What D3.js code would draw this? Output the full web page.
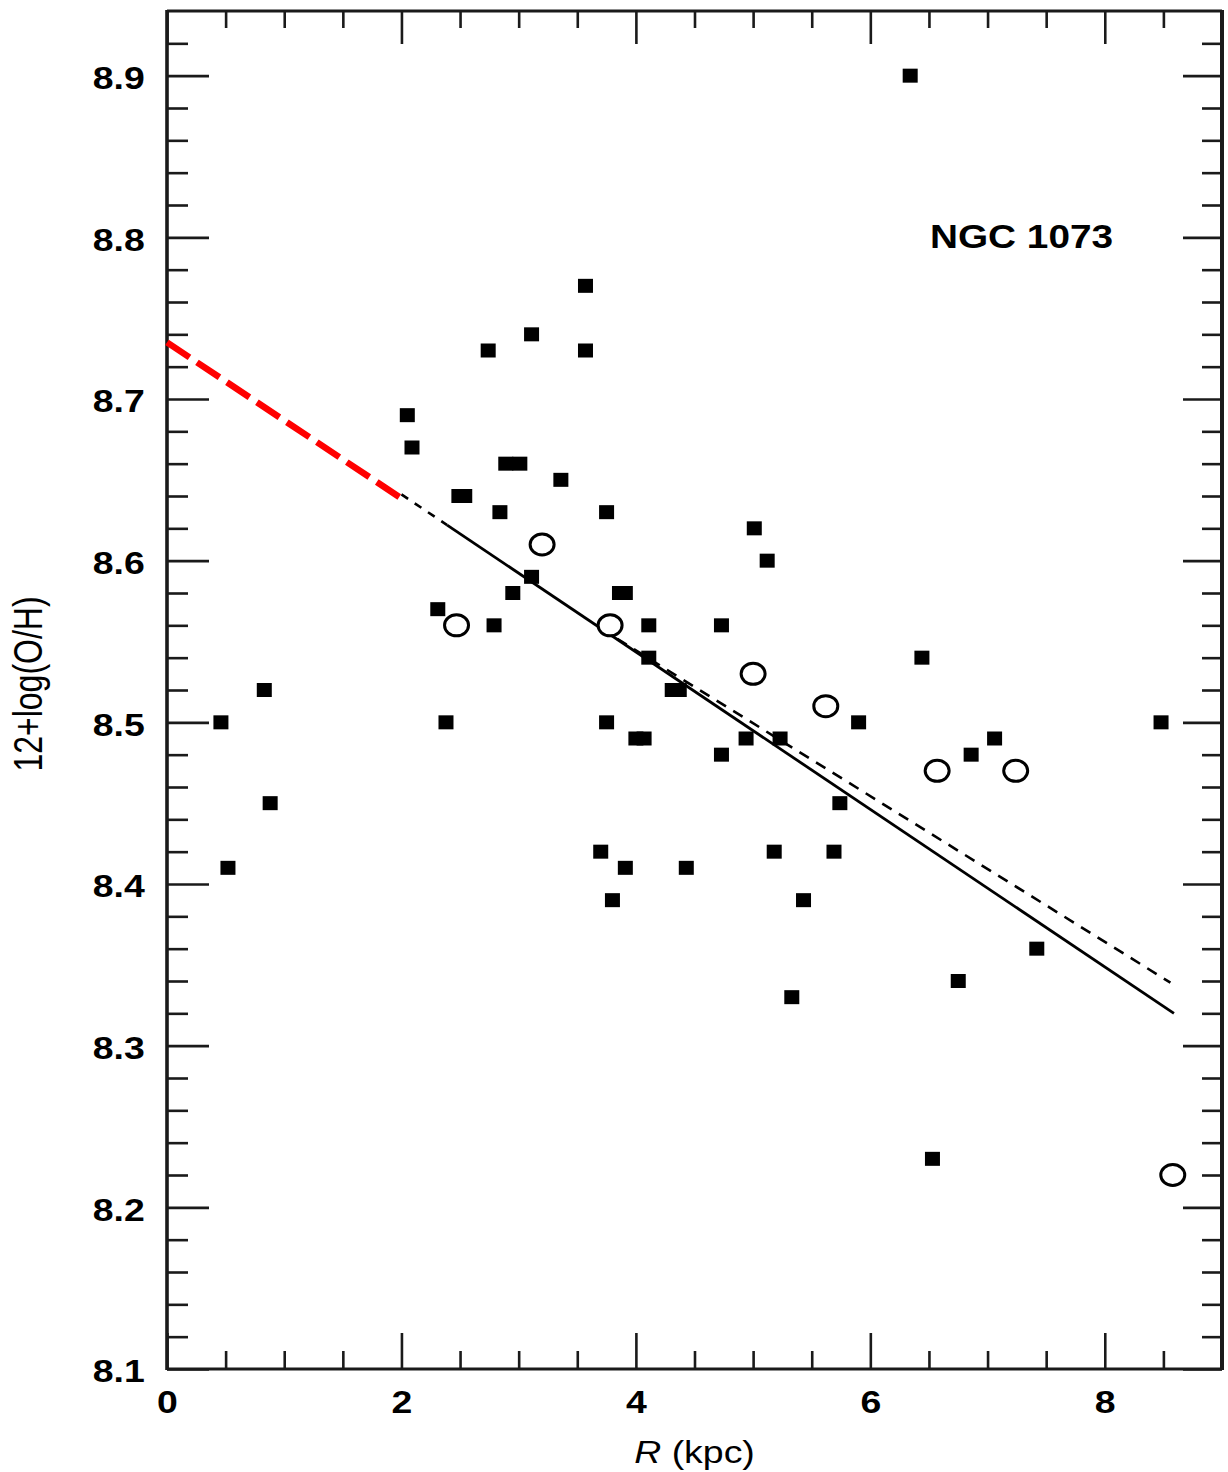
<!DOCTYPE html>
<html>
<head>
<meta charset="utf-8">
<script src="https://cdn.jsdelivr.net/npm/d3@7"></script>
<style>
  html, body { margin: 0; padding: 0; background: #fff; }
  svg { display: block; }
  text { font-family: "Liberation Sans", Arial, Helvetica, sans-serif; fill: #000; }
</style>
</head>
<body>
<svg id="chart" width="1228" height="1472"></svg>
<script>
// H II region oxygen abundances in NGC 1073 versus galactocentric radius
const squareR  = [0.46, 0.52, 0.83, 0.88, 2.05, 2.09, 2.31, 2.38, 2.49, 2.54,
                  2.74, 2.79, 2.84, 2.89, 3.01, 2.95, 3.11, 3.11, 3.36, 3.57,
                  3.57, 3.75, 3.70, 3.75, 3.80, 3.86, 3.91, 3.91, 4.00, 4.07,
                  4.11, 4.11, 4.31, 4.37, 4.43, 4.73, 4.73, 4.94, 5.01, 5.12,
                  5.18, 5.23, 5.33, 5.43, 5.69, 5.74, 5.90, 6.34, 6.44, 6.53,
                  6.75, 6.86, 7.06, 7.42, 8.48];
const squareOH = [8.50, 8.41, 8.52, 8.45, 8.69, 8.67, 8.57, 8.50, 8.64, 8.64,
                  8.73, 8.56, 8.63, 8.66, 8.66, 8.58, 8.74, 8.59, 8.65, 8.77,
                  8.73, 8.63, 8.42, 8.50, 8.39, 8.58, 8.58, 8.41, 8.49, 8.49,
                  8.56, 8.54, 8.52, 8.52, 8.41, 8.56, 8.48, 8.49, 8.62, 8.60,
                  8.42, 8.49, 8.33, 8.39, 8.42, 8.45, 8.50, 8.90, 8.54, 8.23,
                  8.34, 8.48, 8.49, 8.36, 8.50];

const circleR  = [2.47, 3.20, 3.78, 5.00, 5.62, 6.57, 7.24, 8.58];
const circleOH = [8.56, 8.61, 8.56, 8.53, 8.51, 8.47, 8.47, 8.22];

// Radial gradient fits (end points in R, 12+log(O/H))
const fitSolidR  = [2.39, 8.59];
const fitSolidOH = [8.622, 8.320];
const fitExtR    = [2.00, 2.39];
const fitExtOH   = [8.641, 8.622];
const fitCentralR  = [0.00, 2.01];
const fitCentralOH = [8.735, 8.638];
const fitAltR  = [3.70, 8.56];
const fitAltOH = [8.558, 8.339];

const xMajorTicks = [0, 2, 4, 6, 8];
const xMinorTicks = [0.5, 1, 1.5, 2.5, 3, 3.5, 4.5, 5, 5.5, 6.5, 7, 7.5, 8.5];
const yMajorTicks = [8.1, 8.2, 8.3, 8.4, 8.5, 8.6, 8.7, 8.8, 8.9];
const yMinorTicks = [8.12, 8.14, 8.16, 8.18, 8.22, 8.24, 8.26, 8.28, 8.32, 8.34,
                     8.36, 8.38, 8.42, 8.44, 8.46, 8.48, 8.52, 8.54, 8.56, 8.58,
                     8.62, 8.64, 8.66, 8.68, 8.72, 8.74, 8.76, 8.78, 8.82, 8.84,
                     8.86, 8.88, 8.92];

const galaxyName = "NGC 1073";
const yTitle = "12+log(O/H)";

const plotLeft = 167, plotRight = 1222, plotTop = 11, plotBottom = 1369;
const x = d3.scaleLinear().domain([0, 9]).range([plotLeft, plotRight]);
const y = d3.scaleLinear().domain([8.1, 8.94]).range([plotBottom, plotTop]);

const svg = d3.select("#chart");
const sx = 1.17; // horizontal glyph stretch

function tickAxis(gen, tx, ty) {
  const g = svg.append("g").attr("transform", `translate(${tx},${ty})`).call(gen);
  g.select(".domain").remove();
  g.selectAll(".tick line").attr("stroke", "#1a1a1a").attr("stroke-width", 2.6);
  return g;
}

// Minor ticks on all four sides
tickAxis(d3.axisBottom(x).tickValues(xMinorTicks).tickSize(-18).tickFormat(""), 0, plotBottom);
tickAxis(d3.axisTop(x).tickValues(xMinorTicks).tickSize(-17).tickFormat(""), 0, plotTop);
tickAxis(d3.axisLeft(y).tickValues(yMinorTicks).tickSize(-21).tickFormat(""), plotLeft, 0);
tickAxis(d3.axisRight(y).tickValues(yMinorTicks).tickSize(-20).tickFormat(""), plotRight, 0);

// Major ticks with labels on bottom and left
const bx = tickAxis(d3.axisBottom(x).tickValues(xMajorTicks).tickSize(-36).tickPadding(21)
  .tickFormat(d3.format("d")), 0, plotBottom);
tickAxis(d3.axisTop(x).tickValues(xMajorTicks).tickSize(-33).tickFormat(""), 0, plotTop);
const ly = tickAxis(d3.axisLeft(y).tickValues(yMajorTicks).tickSize(-42).tickPadding(19)
  .tickFormat(d3.format(".1f")), plotLeft, 0);
tickAxis(d3.axisRight(y).tickValues(yMajorTicks).tickSize(-39).tickFormat(""), plotRight, 0);

[bx, ly].forEach(g => g.selectAll(".tick text")
  .attr("font-size", 32).attr("font-weight", "bold")
  .attr("font-family", '"Liberation Sans", Arial, sans-serif')
  .attr("fill", "#000")
  .attr("transform", `scale(${sx},1)`));
ly.selectAll(".tick text").attr("dy", "0.4em");

// Frame
const frame = svg.append("g").attr("stroke", "#1a1a1a").attr("fill", "none");
frame.append("line").attr("x1", plotLeft).attr("x2", plotRight).attr("y1", plotTop).attr("y2", plotTop).attr("stroke-width", 2.8);
frame.append("line").attr("x1", plotLeft).attr("x2", plotRight).attr("y1", plotBottom).attr("y2", plotBottom).attr("stroke-width", 3);
frame.append("line").attr("x1", plotLeft).attr("x2", plotLeft).attr("y1", plotTop - 1).attr("y2", plotBottom + 1).attr("stroke-width", 3.6);
frame.append("line").attr("x1", plotRight).attr("x2", plotRight).attr("y1", plotTop - 1).attr("y2", plotBottom + 1).attr("stroke-width", 4);

// Fit lines
const line = d3.line().x(d => x(d[0])).y(d => y(d[1]));
const pairs = (rs, vs) => rs.map((r, i) => [r, vs[i]]);

svg.append("path").datum(pairs(fitExtR, fitExtOH)).attr("d", line)
  .attr("fill", "none").attr("stroke", "#000").attr("stroke-width", 2.6)
  .attr("stroke-dasharray", "8,8");
svg.append("path").datum(pairs(fitSolidR, fitSolidOH)).attr("d", line)
  .attr("fill", "none").attr("stroke", "#000").attr("stroke-width", 2.8);
svg.append("path").datum(pairs(fitAltR, fitAltOH)).attr("d", line)
  .attr("fill", "none").attr("stroke", "#000").attr("stroke-width", 2.6)
  .attr("stroke-dasharray", "11,8.5");
svg.append("path").datum(pairs(fitCentralR, fitCentralOH)).attr("d", line)
  .attr("fill", "none").attr("stroke", "#ff0000").attr("stroke-width", 6.5)
  .attr("stroke-dasharray", "27,9");

// Filled squares
svg.append("g").selectAll("rect").data(pairs(squareR, squareOH)).join("rect")
  .attr("x", d => x(d[0]) - 7.5).attr("y", d => y(d[1]) - 7)
  .attr("width", 15).attr("height", 14).attr("fill", "#000");

// Open circles
svg.append("g").selectAll("ellipse").data(pairs(circleR, circleOH)).join("ellipse")
  .attr("cx", d => x(d[0])).attr("cy", d => y(d[1]))
  .attr("rx", 12).attr("ry", 10.5)
  .attr("fill", "#fff").attr("stroke", "#000").attr("stroke-width", 3);

// Galaxy name
svg.append("text")
  .attr("transform", `translate(930,248) scale(1.14,1)`)
  .attr("font-size", 34).attr("font-weight", "bold")
  .text(galaxyName);

// Axis titles
const xt = svg.append("text")
  .attr("transform", `translate(${(plotLeft + plotRight) / 2},1463) scale(${sx},1)`)
  .attr("text-anchor", "middle").attr("font-size", 32);
xt.append("tspan").attr("font-style", "italic").text("R");
xt.append("tspan").text(" (kpc)");

svg.append("text")
  .attr("transform", `translate(42,684) scale(1.25,1) rotate(-90)`)
  .attr("text-anchor", "middle").attr("font-size", 32)
  .text(yTitle);
</script>
</body>
</html>
